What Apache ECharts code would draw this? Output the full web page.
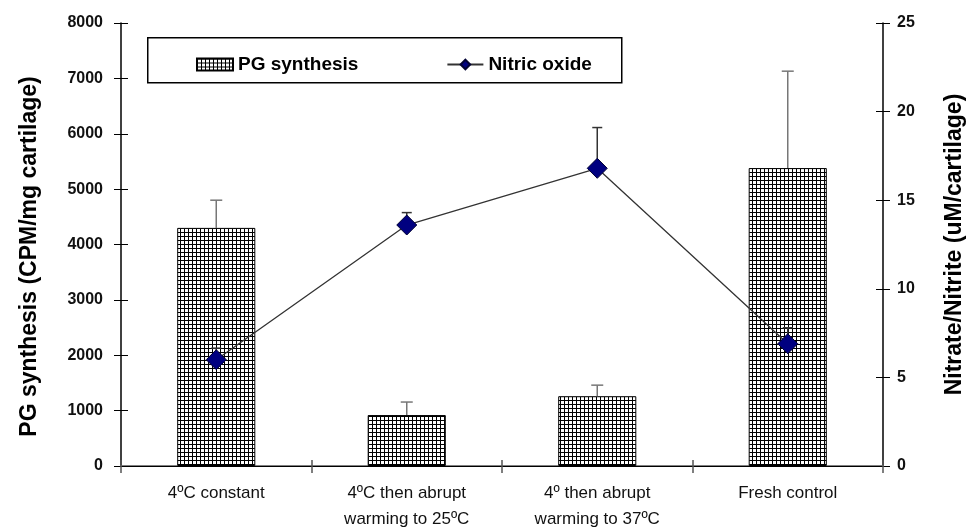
<!DOCTYPE html>
<html>
<head>
<meta charset="utf-8">
<script src="https://cdn.jsdelivr.net/npm/echarts@6/dist/echarts.min.js"></script>
<style>
html,body{margin:0;padding:0;background:#fff;}
#chart{width:974px;height:531px;}
</style>
</head>
<body>
<div id="chart"></div>
<script>
// ---- data ----
const categories = ['4ºC constant', '4ºC then abrupt\nwarming to 25ºC', '4º then abrupt\nwarming to 37ºC', 'Fresh control'];
const pgValues = [4300, 920, 1260, 5380];
const pgErrors = [500, 235, 200, 1750];
const noValues = [6.0, 13.6, 16.8, 6.9];
const noErrors = [0.65, 0.7, 2.3, 0.9];
const leftAxis = {min: 0, max: 8000, interval: 1000};
const rightAxis = {min: 0, max: 25, interval: 5};

// ---- hatch pattern ----
function makePattern() {
  const c = document.createElement('canvas');
  c.width = 4; c.height = 4;
  const g = c.getContext('2d');
  g.fillStyle = '#ffffff'; g.fillRect(0, 0, 4, 4);
  g.fillStyle = '#000000';
  g.fillRect(0, 0, 4, 1);
  g.fillRect(0, 0, 1, 4);
  return c;
}
const pattern = {image: makePattern(), repeat: 'repeat'};

const FONT = 'Liberation Sans, Arial, Helvetica, sans-serif';

function errRender(color, capW) {
  return function (params, api) {
    const i = api.value(0), v = api.value(1), e = api.value(2);
    const p0 = api.coord([i, v]);
    const p1 = api.coord([i, v + e]);
    return {
      type: 'group',
      children: [
        {type: 'line', shape: {x1: p0[0], y1: p0[1], x2: p1[0], y2: p1[1]}, style: {stroke: color, lineWidth: 1.5}},
        {type: 'line', shape: {x1: p1[0] - capW / 2, y1: p1[1], x2: p1[0] + capW / 2, y2: p1[1]}, style: {stroke: color, lineWidth: 1.5}}
      ]
    };
  };
}

const chart = echarts.init(document.getElementById('chart'), null, {renderer: 'canvas'});
const option = {
  animation: false,
  backgroundColor: '#fff',
  textStyle: {fontFamily: FONT},
  grid: {left: 121, right: 91, top: 23, bottom: 65, containLabel: false, outerBoundsMode: 'none'},
  graphic: [{
    type: 'rect', left: 147, top: 37, z: -1,
    shape: {width: 474, height: 45},
    style: {fill: '#fff', stroke: '#000', lineWidth: 1.5}
  }],
  legend: {
    left: 191, top: 50, itemGap: 88, itemWidth: 36, itemHeight: 12,
    textStyle: {fontFamily: FONT, fontWeight: 'bold', fontSize: 19, color: '#000'},
    data: [{name: 'PG synthesis', icon: 'rect'}, 'Nitric oxide']
  },
  xAxis: [
    {
      type: 'category', data: categories, position: 'bottom',
      axisLine: {lineStyle: {color: '#808080', width: 2}},
      axisTick: {show: true, length: 7, lineStyle: {color: '#555', width: 1.5}},
      axisLabel: {fontFamily: FONT, fontSize: 17, color: '#111', margin: 14, lineHeight: 26},
      splitLine: {show: false}
    },
    {
      type: 'category', data: categories, position: 'bottom',
      axisLine: {show: false},
      axisTick: {show: true, inside: true, length: 6, lineStyle: {color: '#555', width: 1.5}},
      axisLabel: {show: false}, splitLine: {show: false}
    },
    {
      type: 'category', data: categories, position: 'top',
      axisLine: {show: true, lineStyle: {color: '#000', width: 1}},
      axisTick: {show: false}, axisLabel: {show: false}, splitLine: {show: false}
    }
  ],
  yAxis: [
    {
      type: 'value', position: 'left', min: leftAxis.min, max: leftAxis.max, interval: leftAxis.interval,
      name: 'PG synthesis (CPM/mg cartilage)', nameLocation: 'middle', nameGap: 80, nameRotate: 90,
      nameTextStyle: {fontFamily: FONT, fontWeight: 'bold', fontSize: 23, color: '#000', padding: [0, 24, 0, 0]},
      axisLine: {show: true, lineStyle: {color: '#000', width: 1.5}},
      axisTick: {show: true, length: 7, lineStyle: {color: '#000', width: 1}},
      axisLabel: {fontFamily: FONT, fontSize: 16, fontWeight: 'bold', color: '#111', margin: 18,
                  formatter: v => String(v)},
      splitLine: {show: false}
    },
    {
      type: 'value', position: 'right', min: rightAxis.min, max: rightAxis.max, interval: rightAxis.interval,
      name: 'Nitrate/Nitrite (uM/cartilage)', nameLocation: 'middle', nameGap: 60, nameRotate: 90,
      nameTextStyle: {fontFamily: FONT, fontWeight: 'bold', fontSize: 23, color: '#000'},
      axisLine: {show: true, lineStyle: {color: '#000', width: 1.5}},
      axisTick: {show: true, length: 7, lineStyle: {color: '#000', width: 1}},
      axisLabel: {fontFamily: FONT, fontSize: 16, fontWeight: 'bold', color: '#111', margin: 14,
                  formatter: v => String(v)},
      splitLine: {show: false}
    },
    {
      type: 'value', position: 'left', min: leftAxis.min, max: leftAxis.max, interval: leftAxis.interval,
      axisLine: {show: false},
      axisTick: {show: true, inside: true, length: 7, lineStyle: {color: '#000', width: 1}},
      axisLabel: {show: false}, splitLine: {show: false}
    },
    {
      type: 'value', position: 'right', min: rightAxis.min, max: rightAxis.max, interval: rightAxis.interval,
      axisLine: {show: false},
      axisTick: {show: true, inside: true, length: 7, lineStyle: {color: '#000', width: 1}},
      axisLabel: {show: false}, splitLine: {show: false}
    }
  ],
  series: [
    {
      name: 'PG synthesis', type: 'bar', xAxisIndex: 0, yAxisIndex: 0,
      data: pgValues, barWidth: '41%', z: 2,
      itemStyle: {color: pattern, borderColor: '#000', borderWidth: 1}
    },
    {
      name: 'PG error', type: 'custom', xAxisIndex: 0, yAxisIndex: 0, z: 3,
      renderItem: errRender('#777', 12),
      encode: {x: 0, y: 1},
      data: pgValues.map((v, i) => [i, v, pgErrors[i]])
    },
    {
      name: 'NO error', type: 'custom', xAxisIndex: 0, yAxisIndex: 1, z: 4,
      renderItem: errRender('#333', 10),
      encode: {x: 0, y: 1},
      data: noValues.map((v, i) => [i, v, noErrors[i]])
    },
    {
      name: 'Nitric oxide', type: 'line', xAxisIndex: 0, yAxisIndex: 1, z: 5,
      data: noValues,
      symbol: 'diamond', symbolSize: 20,
      lineStyle: {color: '#333', width: 1.3},
      itemStyle: {color: '#000080', borderColor: '#000033', borderWidth: 1}
    }
  ]
};
chart.setOption(option);
</script>
</body>
</html>
